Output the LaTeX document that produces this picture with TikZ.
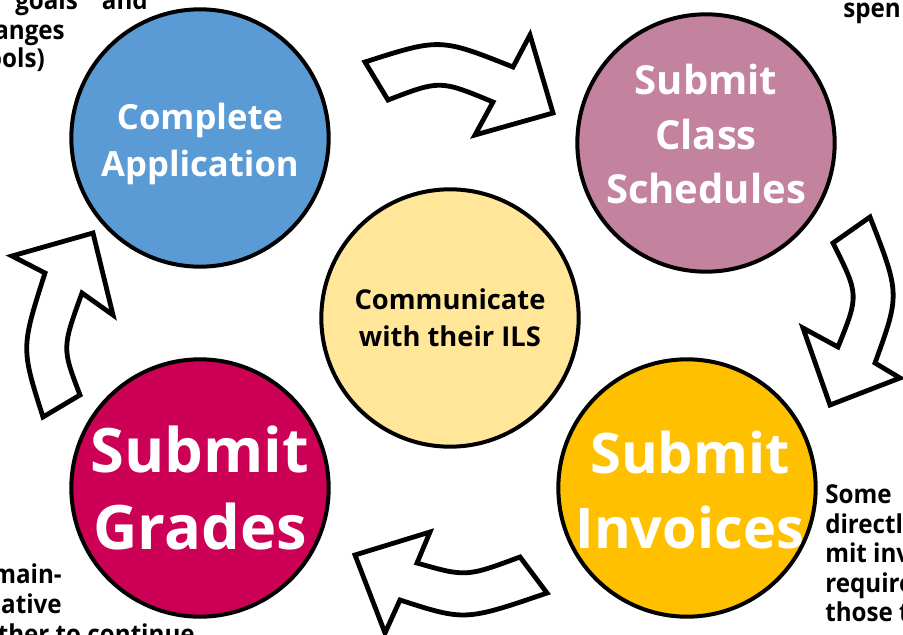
\documentclass[tikz,border=0pt]{standalone}
\usepackage{fontspec}
\setmainfont{Open Sans}
\newfontfamily\sidefont[FakeStretch=0.93]{Open Sans}
\usetikzlibrary{calc,positioning}
\definecolor{appblue}{HTML}{5B9BD5}
\definecolor{schedpink}{HTML}{C3839F}
\definecolor{ilsyellow}{HTML}{FFE699}
\definecolor{gradered}{HTML}{CC0055}
\definecolor{invorange}{HTML}{FFC000}
\newcommand{\fs}[2]{\fontsize{#1}{#2}\selectfont\bfseries}

\begin{document}
\begin{tikzpicture}[x=0.75pt,y=-0.75pt,
  stage/.style={circle,draw=black,line width=3pt,minimum size=193pt,inner sep=0pt},
  word/.style={align=center,text=white,inner sep=0pt},
  turn/.style={draw=black,fill=white,line width=3.6pt,line join=miter},
  side/.style={font=\sidefont\fs{19.5pt}{22.5pt},inner sep=0pt}]
  \useasboundingbox (0,0) rectangle (903,635);
  \clip (0,0) rectangle (903,635);

  \node[stage,fill=ilsyellow] (ils) at (450,318) {};
  \node[stage,fill=appblue] (app) at ($(ils)+(-250,-180)$) {};
  \node[stage,fill=schedpink] (sched) at ($(ils)+(256,-175)$) {};
  \node[stage,fill=gradered] (grades) at ($(ils)+(-250,170)$) {};
  \node[stage,fill=invorange] (inv) at ($(ils)+(237,170)$) {};

  \node[word,text=black,font=\fs{20.5pt}{28pt}] (ilst) at (ils) {Communicate\\with their ILS};
  \node[word,font=\fs{26pt}{35pt}] (appt) at ($(app)+(0,6)$) {Complete\\Application};
  \node[word,font=\fs{30pt}{41pt}] (schedt) at ($(sched)+(0,-9)$) {Submit\\Class\\Schedules};
  \node[word,font=\fs{46pt}{58pt}] (gradest) at (grades) {Submit\\Grades};
  \node[word,font=\fs{42pt}{56pt}] (invt) at ($(inv)+(3,2)$) {Submit\\Invoices};

  \draw[turn] (365,62) .. controls (440,38) .. (513,67) -- (530,35) -- (553,113)
    -- (475,135) -- (493,102) .. controls (440,80) .. (388,100) -- cycle;
  \draw[turn] (870,217) .. controls (900,294) .. (875,363) -- (900,378) -- (830,405)
    -- (803,328) -- (838,347) .. controls (859,295) .. (833,243) -- cycle;
  \draw[turn] (547,593) .. controls (465,621) .. (400,600) -- (385,633) -- (355,555)
    -- (430,532) -- (417,563) .. controls (466,577) .. (520,557) -- cycle;
  \draw[turn] (43,417) .. controls (21,348) .. (45,273) -- (12,256) -- (93,233)
    -- (113,315) -- (82,293) .. controls (62,348) .. (80,395) -- cycle;

  \node[side,anchor=base west] (tl1) at (15,10) {goals};
  \node[side,anchor=base east] (tl2) at (148,10) {and};
  \node[side,anchor=base east] (tl3) at (65,40) {anges};
  \node[side,anchor=base east] (tl4) at (45,68) {ools)};
  \node[side,anchor=base west] (tr1) at (843,18) {spen};
  \foreach \n/\y/\t in {br1/503/Some,br2/533/directl,br3/562/mit\ inv,br4/592/require,br5/621/those t} {
    \node[side,anchor=base west] (\n) at (825,\y) {\t};
  }
  \node[side,anchor=base east] (bl1) at (62,583) {main-};
  \node[side,anchor=base east] (bl2) at (62,613) {ative};
  \node[side,anchor=base east] (bl3) at (195,643) {ther to continue};
\end{tikzpicture}
\end{document}
